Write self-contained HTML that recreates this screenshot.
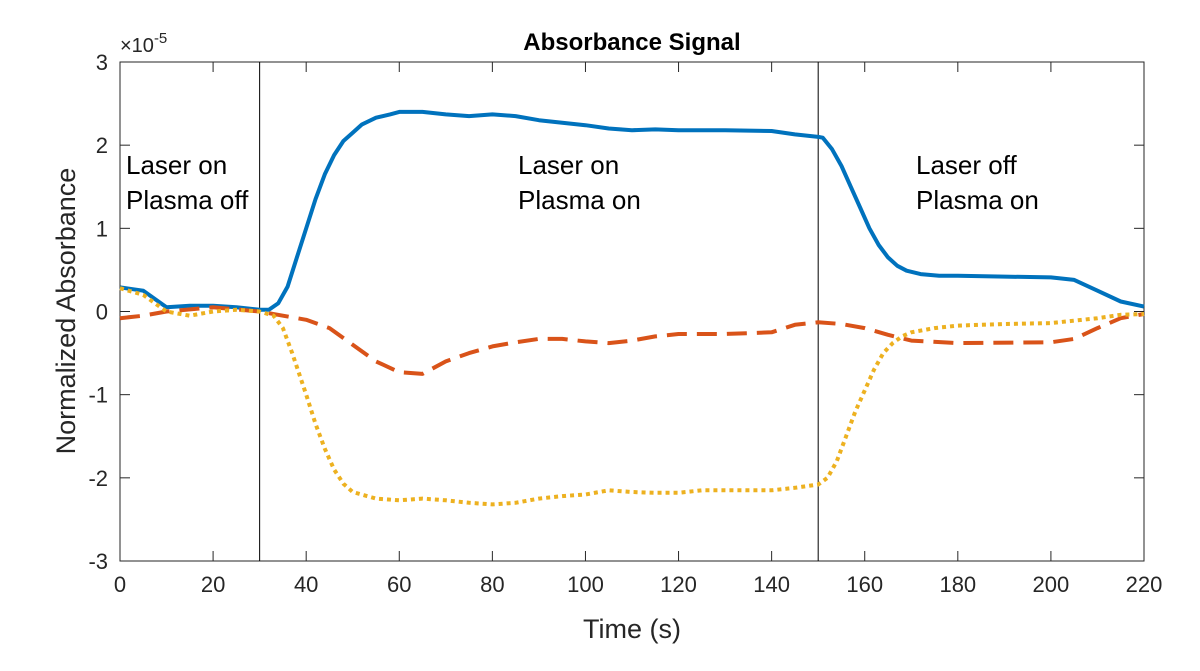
<!DOCTYPE html>
<html><head><meta charset="utf-8"><style>
body{margin:0;background:#fff;}
svg{display:block;font-family:"Liberation Sans",sans-serif;}
</style></head><body>
<svg id="chart" width="1200" height="671" viewBox="0 0 1200 671">
<rect width="1200" height="671" fill="#fff"/>
<g id="plot"></g>
</svg>
<script>
const timeBlue=[0,5,10,15,20,25,30,32,34,36,38,40,42,44,46,48,50,52,55,58,60,65,70,75,80,85,90,95,100,105,110,115,120,130,140,145,150,151,153,155,157,159,161,163,165,167,169,172,176,180,190,200,205,210,215,220];
const blueVals=[0.29,0.25,0.05,0.07,0.07,0.05,0.02,0.02,0.1,0.3,0.65,1.0,1.35,1.65,1.88,2.05,2.15,2.25,2.33,2.37,2.4,2.4,2.37,2.35,2.37,2.35,2.3,2.27,2.24,2.2,2.18,2.19,2.18,2.18,2.17,2.13,2.1,2.09,1.95,1.75,1.5,1.25,1.0,0.8,0.65,0.55,0.49,0.45,0.43,0.43,0.42,0.41,0.38,0.25,0.12,0.06];
const timeRed=[0,5,10,20,30,35,40,45,50,55,60,65,70,75,80,85,90,95,100,105,110,115,120,130,140,145,150,155,160,165,170,180,200,205,210,215,220];
const redVals=[-0.08,-0.05,0.0,0.05,0.0,-0.05,-0.1,-0.2,-0.4,-0.6,-0.73,-0.75,-0.6,-0.5,-0.42,-0.37,-0.33,-0.33,-0.36,-0.38,-0.35,-0.3,-0.27,-0.27,-0.25,-0.16,-0.13,-0.15,-0.2,-0.28,-0.35,-0.38,-0.37,-0.33,-0.2,-0.08,-0.03];
const timeYellow=[0,5,10,15,20,25,30,33,35,37,40,42,44,46,48,50,55,60,65,70,75,80,85,90,95,100,105,110,115,120,125,130,140,145,150,152,154,156,158,160,162,164,166,168,170,175,180,190,200,210,215,220];
const yellowVals=[0.28,0.2,0.0,-0.05,0.0,0.02,0.0,-0.05,-0.2,-0.5,-1.0,-1.35,-1.65,-1.9,-2.07,-2.17,-2.25,-2.27,-2.25,-2.27,-2.3,-2.32,-2.3,-2.25,-2.22,-2.2,-2.15,-2.17,-2.18,-2.18,-2.15,-2.15,-2.15,-2.12,-2.08,-2.0,-1.8,-1.5,-1.2,-0.95,-0.7,-0.5,-0.38,-0.3,-0.25,-0.2,-0.17,-0.15,-0.14,-0.08,-0.04,-0.03];
const xTicks=[0,20,40,60,80,100,120,140,160,180,200,220];
const yTicks=[-3,-2,-1,0,1,2,3];
const phaseLines=[30,150];

const L=120,R=1144,T=62,B=561;
const xs=v=>L+(v-0)/220*(R-L);
const ys=v=>B-(v+3)/6*(B-T);
const g=document.getElementById('plot');
const NS='http://www.w3.org/2000/svg';
function mk(tag,attrs,parent){const e=document.createElementNS(NS,tag);for(const k in attrs)e.setAttribute(k,attrs[k]);(parent||g).appendChild(e);return e;}

const frame=mk('rect',{x:L,y:T,width:R-L,height:B-T,fill:'none',stroke:'#262626','stroke-width':1});



xTicks.forEach(t=>{
  const x=xs(t);
  mk('line',{x1:x,x2:x,y1:B,y2:B-10,stroke:'#262626'});
  mk('line',{x1:x,x2:x,y1:T,y2:T+10,stroke:'#262626'});
  const tx=mk('text',{x:x,y:B+31,'text-anchor':'middle','font-size':22,fill:'#262626'});
  tx.textContent=t;
  
  
});
yTicks.forEach(t=>{
  const y=ys(t);
  mk('line',{x1:L,x2:L+10,y1:y,y2:y,stroke:'#262626'});
  mk('line',{x1:R,x2:R-10,y1:y,y2:y,stroke:'#262626'});
  const tx=mk('text',{x:L-12,y:y+8,'text-anchor':'end','font-size':22,fill:'#262626'});
  tx.textContent=t;
  
  
});
phaseLines.forEach(p=>{
  const l=mk('line',{x1:xs(p),x2:xs(p),y1:T,y2:B,stroke:'#000','stroke-width':1});
  
  
});

function series(tx,vals,color,dash,name){
  const d=tx.map((t,i)=>(i?'L':'M')+xs(t).toFixed(1)+','+ys(vals[i]).toFixed(1)).join(' ');
  const p=mk('path',{d:d,fill:'none',stroke:color,'stroke-width':4,'stroke-dasharray':dash,'stroke-linejoin':'round'});
  
  
}
series(timeBlue,blueVals,'#0072BD','none','series-blue-line');
series(timeRed,redVals,'#D95319','20,10','series-red-dashed');
series(timeYellow,yellowVals,'#EDB120','4,4','series-yellow-dotted');

function txt(x,y,s,size,name,extra){const e=mk('text',Object.assign({x:x,y:y,'font-size':size,fill:'#000'},extra||{}));e.textContent=s;return e;}
txt(126,174,'Laser on',26,'annotation-phase1');
txt(126,209,'Plasma off',26,'annotation-phase1');
txt(518,174,'Laser on',26,'annotation-phase2');
txt(518,209,'Plasma on',26,'annotation-phase2');
txt(916,174,'Laser off',26,'annotation-phase3');
txt(916,209,'Plasma on',26,'annotation-phase3');
txt(632,50,'Absorbance Signal',24,'chart-title',{'text-anchor':'middle','font-weight':'bold'});
txt(632,638,'Time (s)',27,'x-axis-title',{'text-anchor':'middle',fill:'#262626'});
txt(0,0,'Normalized Absorbance',27,'y-axis-title',{'text-anchor':'middle',fill:'#262626',transform:'translate(75,311) rotate(-90)'});
const ex=mk('text',{x:120,y:52,'font-size':20,fill:'#262626'});
ex.innerHTML='×10<tspan dy="-9" font-size="15">-5</tspan>';


</script>
</body></html>
